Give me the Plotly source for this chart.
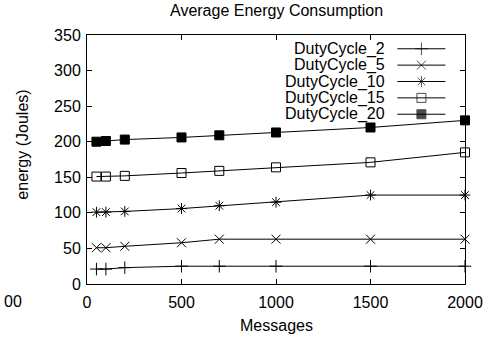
import plotly.graph_objects as go

messages = [50, 100, 200, 500, 700, 1000, 1500, 2000]
duty_2 = [21, 21, 23, 25, 25, 25, 25, 25]
duty_5 = [51, 51, 53, 58, 63, 63, 63, 63]
duty_10 = [101, 101, 102, 106, 110, 115, 125, 125]
duty_15 = [151, 151, 152, 156, 159, 164, 171, 185]
duty_20 = [200, 201, 203, 206, 209, 213, 220, 230]
series_names = ["DutyCycle_2", "DutyCycle_5", "DutyCycle_10", "DutyCycle_15", "DutyCycle_20"]
series_values = [duty_2, duty_5, duty_10, duty_15, duty_20]
symbols = ["cross-thin-open", "x-thin-open", "asterisk-open", "square-open", "square"]
sizes = [9, 9, 9, 9, 9]
x_ticks = [0, 500, 1000, 1500, 2000]
y_ticks = [0, 50, 100, 150, 200, 250, 300, 350]

FONT = "Liberation Sans, Arial, sans-serif"
W, H = 495, 341
L, R, T, B = 87, 473, 34.5, 284


def px(x):
    return (x - L) / (R - L)


def py(y):
    return (B - y) / (B - T)


fig = go.Figure()
for name, vals, sym, sz in zip(series_names, series_values, symbols, sizes):
    fig.add_trace(go.Scatter(
        x=messages, y=vals, mode="lines+markers", name=name, showlegend=False,
        line=dict(color="black", width=1),
        marker=dict(symbol=sym, size=sz, color="black",
                    line=dict(color="black", width=1)),
        cliponaxis=False,
    ))

# manual gnuplot-style legend (text left of sample), in pixel coords of plot area
row_y = [48.3, 64.7, 81.1, 97.5, 113.9]
for name, sym, sz, ry in zip(series_names, symbols, sizes, row_y):
    fig.add_trace(go.Scatter(
        x=[404, 428.5, 453], y=[ry, ry, ry], mode="lines+markers",
        xaxis="x2", yaxis="y2", showlegend=False, hoverinfo="skip",
        line=dict(color="black", width=1),
        marker=dict(symbol=sym, size=[0, sz, 0], color="black",
                    line=dict(color="black", width=1)),
        cliponaxis=False,
    ))
    fig.add_annotation(x=px(393.5), y=py(ry), xref="paper", yref="paper", text=name,
                       showarrow=False, xanchor="right", yanchor="middle",
                       font=dict(family=FONT, size=16, color="black"))

axis_common = dict(showline=True, linecolor="black", linewidth=1, mirror="ticks",
                   ticks="inside", ticklen=5, tickcolor="black", tickwidth=1,
                   showgrid=False, zeroline=False,
                   tickfont=dict(family=FONT, size=16, color="black"))

fig.update_layout(
    width=W, height=H,
    margin=dict(l=L, r=W - R, t=T, b=H - B, pad=0),
    paper_bgcolor="white", plot_bgcolor="white",
    xaxis=dict(range=[0, 2000], tickvals=x_ticks, ticktext=[str(v) for v in x_ticks],
               ticklabelstandoff=4, **axis_common),
    yaxis=dict(range=[0, 350], tickvals=y_ticks, ticktext=[str(v) for v in y_ticks],
               ticklabelstandoff=2, **axis_common),
    xaxis2=dict(range=[L, R], overlaying="x", visible=False, anchor="y2"),
    yaxis2=dict(range=[B, T], overlaying="y", visible=False, anchor="x2"),
    showlegend=False,
)

for txt, x, y, anchor, angle in [
    ("Average Energy Consumption", 280, 10, "center", 0),
    ("Messages", 280, 326, "center", 0),
    ("energy (Joules)", 21, 144, "center", -90),
    ("00", 0.5, 302, "left", 0),
]:
    fig.add_annotation(x=px(x), y=py(y), xref="paper", yref="paper", text=txt,
                       showarrow=False, xanchor=anchor, yanchor="middle", textangle=angle,
                       font=dict(family=FONT, size=16, color="black"))

fig.write_html("out.html")
